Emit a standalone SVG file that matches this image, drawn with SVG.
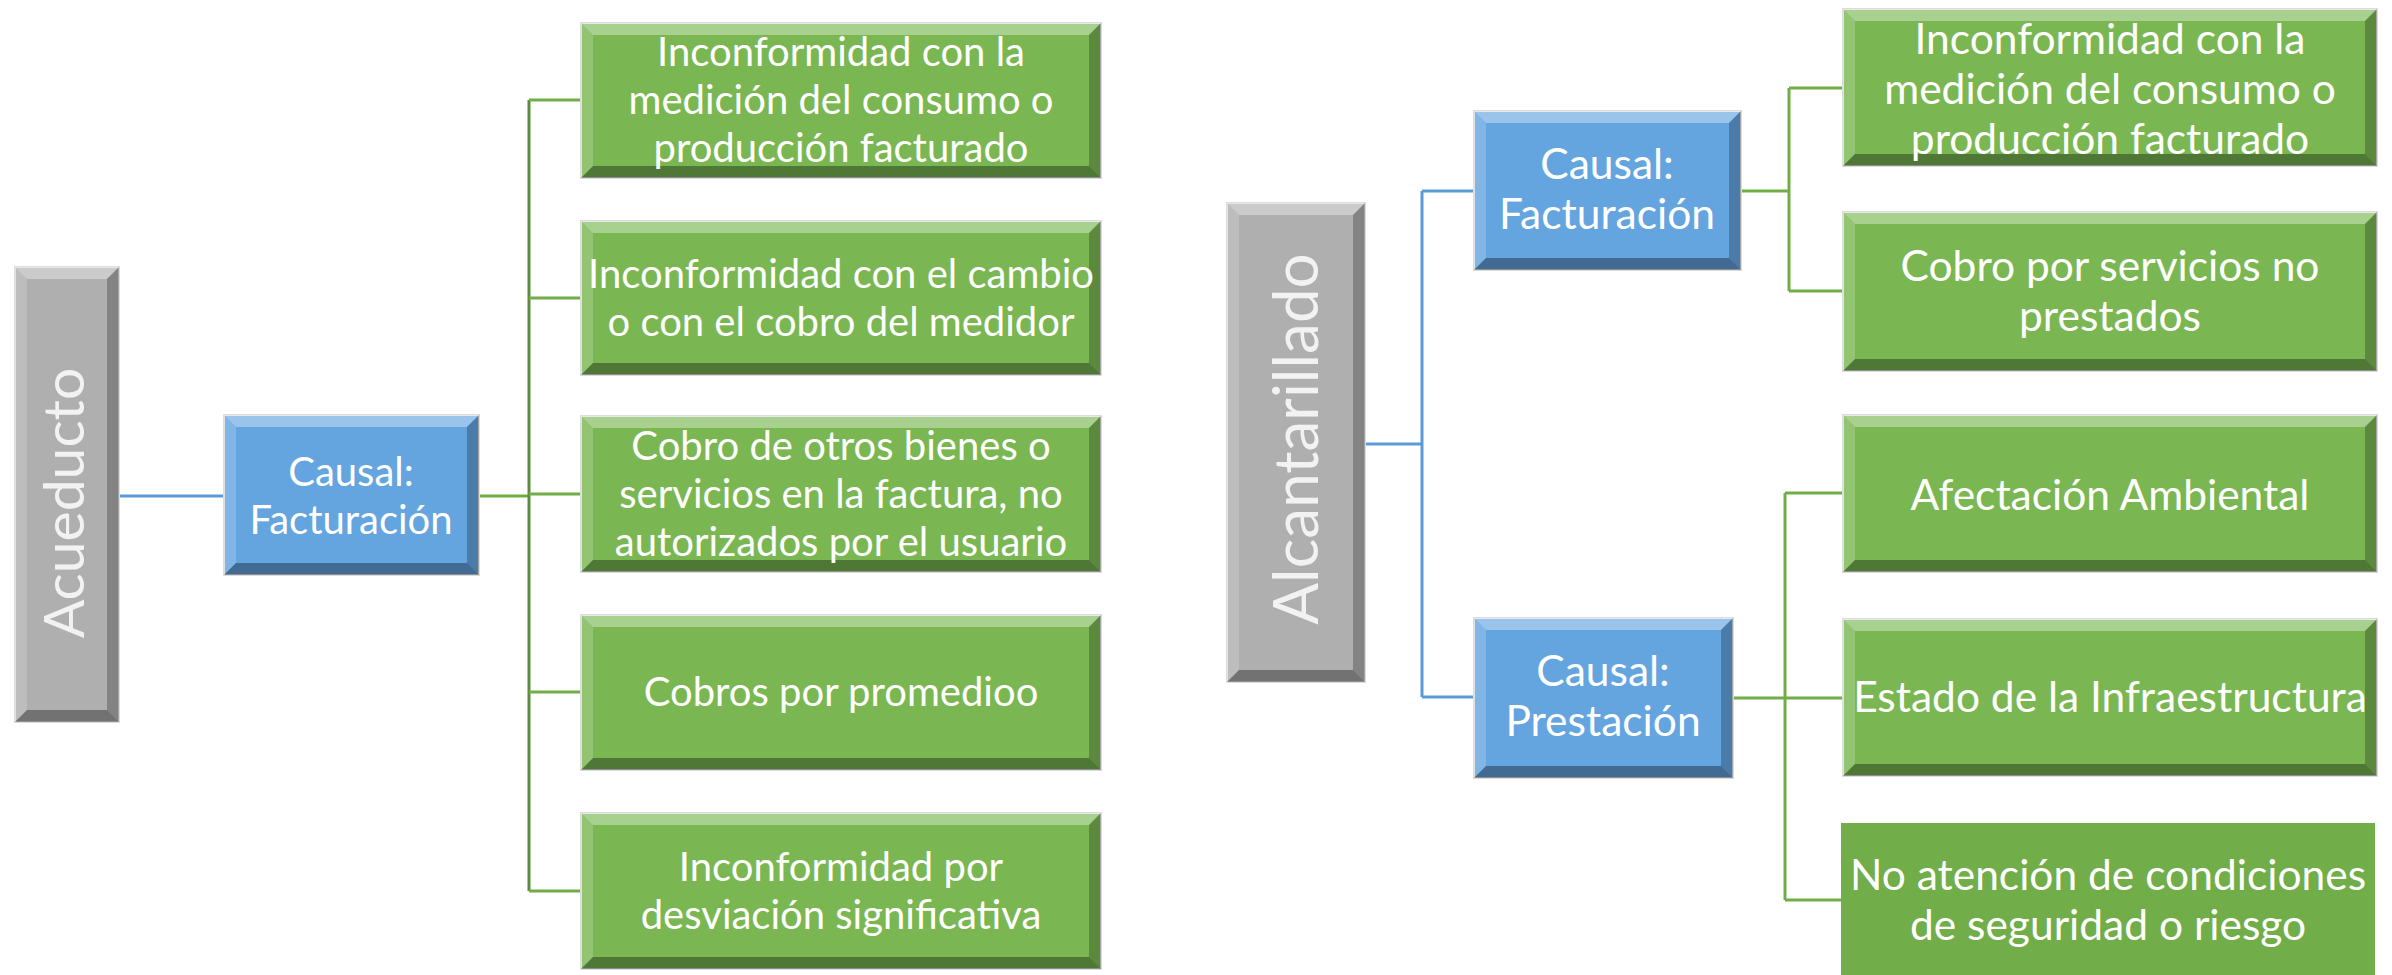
<svg xmlns="http://www.w3.org/2000/svg" width="2392" height="975" viewBox="0 0 2392 975">
<style>
.t{font-family:Lato,"Open Sans","Liberation Sans",sans-serif;fill:#fff;text-anchor:middle;font-size:40px}
.r{font-size:42.5px}
.big{fill:#f2f2f2}
.gray{fill:#afafaf}
.blue{fill:#64a5e0}
.green{fill:#7ab752}
.flat{fill:#71ad48}
.edge{stroke:#dcdcdc;stroke-width:2}
.hl{fill:#fff;opacity:.35}
.hl2{fill:#fff;opacity:.18}
.sh{fill:#000;opacity:.35}
.sh2{fill:#000;opacity:.25}
.cb{stroke:#5b9bd5;stroke-width:3;fill:none}
.cg{stroke:#70ad47;stroke-width:3;fill:none}
.cgd{stroke:#5a8d3a;stroke-width:3;fill:none}
</style>
<rect width="2392" height="975" fill="#fff"/>
<g id="connectors">
<path class="cb" d="M119 496H224"/>
<path class="cg" d="M479 496H529"/>
<path class="cgd" d="M529 100V891"/>
<path class="cg" d="M529 100H581M529 298H581M529 494H581M529 692H581M529 891H581"/>
<path class="cb" d="M1365 444H1422M1422 191V697M1422 191H1474M1422 697H1474"/>
<path class="cg" d="M1741 191H1789M1789 88V291M1789 88H1843M1789 291H1843"/>
<path class="cg" d="M1733 698H1785M1785 493V900M1785 493H1843M1785 698H1843M1785 900H1843"/>
</g>
<g id="acueducto">
<rect class="gray edge" x="15" y="267" width="104" height="455"/>
<polygon class="hl" points="15,267 119,267 107,279 27,279"/>
<polygon class="hl2" points="15,267 27,279 27,710 15,722"/>
<polygon class="sh" points="15,722 27,710 107,710 119,722"/>
<polygon class="sh2" points="119,267 119,722 107,710 107,279"/>
<text class="t big" style="font-size:57px" transform="translate(64,503) rotate(-90)" dy="0.35em">Acueducto</text>
</g>
<g id="causal-facturacion-1">
<rect class="blue edge" x="224" y="415" width="255" height="160"/>
<polygon class="hl" points="224,415 479,415 467,427 236,427"/>
<polygon class="hl2" points="224,415 236,427 236,563 224,575"/>
<polygon class="sh" points="224,575 236,563 467,563 479,575"/>
<polygon class="sh2" points="479,415 479,575 467,563 467,427"/>
<text class="t" x="351" y="486">Causal:</text>
<text class="t" x="351" y="534">Facturación</text>
</g>
<g id="a1">
<rect class="green edge" x="581" y="23" width="520" height="155"/>
<polygon class="hl" points="581,23 1101,23 1089,35 593,35"/>
<polygon class="hl2" points="581,23 593,35 593,166 581,178"/>
<polygon class="sh" points="581,178 593,166 1089,166 1101,178"/>
<polygon class="sh2" points="1101,23 1101,178 1089,166 1089,35"/>
<text class="t" x="841" y="66">Inconformidad con la</text>
<text class="t" x="841" y="114">medición del consumo o</text>
<text class="t" x="841" y="162">producción facturado</text>
</g>
<g id="a2">
<rect class="green edge" x="581" y="221" width="520" height="154"/>
<polygon class="hl" points="581,221 1101,221 1089,233 593,233"/>
<polygon class="hl2" points="581,221 593,233 593,363 581,375"/>
<polygon class="sh" points="581,375 593,363 1089,363 1101,375"/>
<polygon class="sh2" points="1101,221 1101,375 1089,363 1089,233"/>
<text class="t" x="841" y="288">Inconformidad con el cambio</text>
<text class="t" x="841" y="336">o con el cobro del medidor</text>
</g>
<g id="a3">
<rect class="green edge" x="581" y="416" width="520" height="156"/>
<polygon class="hl" points="581,416 1101,416 1089,428 593,428"/>
<polygon class="hl2" points="581,416 593,428 593,560 581,572"/>
<polygon class="sh" points="581,572 593,560 1089,560 1101,572"/>
<polygon class="sh2" points="1101,416 1101,572 1089,560 1089,428"/>
<text class="t" x="841" y="460">Cobro de otros bienes o</text>
<text class="t" x="841" y="508">servicios en la factura, no</text>
<text class="t" x="841" y="556">autorizados por el usuario</text>
</g>
<g id="a4">
<rect class="green edge" x="581" y="615" width="520" height="155"/>
<polygon class="hl" points="581,615 1101,615 1089,627 593,627"/>
<polygon class="hl2" points="581,615 593,627 593,758 581,770"/>
<polygon class="sh" points="581,770 593,758 1089,758 1101,770"/>
<polygon class="sh2" points="1101,615 1101,770 1089,758 1089,627"/>
<text class="t" x="841" y="706">Cobros por promedioo</text>
</g>
<g id="a5">
<rect class="green edge" x="581" y="813" width="520" height="156"/>
<polygon class="hl" points="581,813 1101,813 1089,825 593,825"/>
<polygon class="hl2" points="581,813 593,825 593,957 581,969"/>
<polygon class="sh" points="581,969 593,957 1089,957 1101,969"/>
<polygon class="sh2" points="1101,813 1101,969 1089,957 1089,825"/>
<text class="t" x="841" y="881">Inconformidad por</text>
<text class="t" x="841" y="929">desviación significativa</text>
</g>
<g id="alcantarillado">
<rect class="gray edge" x="1227" y="203" width="138" height="479"/>
<polygon class="hl" points="1227,203 1365,203 1353,215 1239,215"/>
<polygon class="hl2" points="1227,203 1239,215 1239,670 1227,682"/>
<polygon class="sh" points="1227,682 1239,670 1353,670 1365,682"/>
<polygon class="sh2" points="1365,203 1365,682 1353,670 1353,215"/>
<text class="t big" style="font-size:62px" transform="translate(1296,439) rotate(-90)" dy="0.35em">Alcantarillado</text>
</g>
<g id="causal-facturacion-2">
<rect class="blue edge" x="1474" y="111" width="267" height="159"/>
<polygon class="hl" points="1474,111 1741,111 1729,123 1486,123"/>
<polygon class="hl2" points="1474,111 1486,123 1486,258 1474,270"/>
<polygon class="sh" points="1474,270 1486,258 1729,258 1741,270"/>
<polygon class="sh2" points="1741,111 1741,270 1729,258 1729,123"/>
<text class="t r" x="1607" y="179">Causal:</text>
<text class="t r" x="1607" y="229">Facturación</text>
</g>
<g id="causal-prestacion">
<rect class="blue edge" x="1474" y="618" width="259" height="160"/>
<polygon class="hl" points="1474,618 1733,618 1721,630 1486,630"/>
<polygon class="hl2" points="1474,618 1486,630 1486,766 1474,778"/>
<polygon class="sh" points="1474,778 1486,766 1721,766 1733,778"/>
<polygon class="sh2" points="1733,618 1733,778 1721,766 1721,630"/>
<text class="t r" x="1603" y="686">Causal:</text>
<text class="t r" x="1603" y="736">Prestación</text>
</g>
<g id="r1">
<rect class="green edge" x="1843" y="9" width="534" height="157"/>
<polygon class="hl" points="1843,9 2377,9 2365,21 1855,21"/>
<polygon class="hl2" points="1843,9 1855,21 1855,154 1843,166"/>
<polygon class="sh" points="1843,166 1855,154 2365,154 2377,166"/>
<polygon class="sh2" points="2377,9 2377,166 2365,154 2365,21"/>
<text class="t r" x="2110" y="54">Inconformidad con la</text>
<text class="t r" x="2110" y="104">medición del consumo o</text>
<text class="t r" x="2110" y="154">producción facturado</text>
</g>
<g id="r2">
<rect class="green edge" x="1843" y="212" width="534" height="159"/>
<polygon class="hl" points="1843,212 2377,212 2365,224 1855,224"/>
<polygon class="hl2" points="1843,212 1855,224 1855,359 1843,371"/>
<polygon class="sh" points="1843,371 1855,359 2365,359 2377,371"/>
<polygon class="sh2" points="2377,212 2377,371 2365,359 2365,224"/>
<text class="t r" x="2110" y="281">Cobro por servicios no</text>
<text class="t r" x="2110" y="331">prestados</text>
</g>
<g id="r3">
<rect class="green edge" x="1843" y="415" width="534" height="157"/>
<polygon class="hl" points="1843,415 2377,415 2365,427 1855,427"/>
<polygon class="hl2" points="1843,415 1855,427 1855,560 1843,572"/>
<polygon class="sh" points="1843,572 1855,560 2365,560 2377,572"/>
<polygon class="sh2" points="2377,415 2377,572 2365,560 2365,427"/>
<text class="t r" x="2110" y="510">Afectación Ambiental</text>
</g>
<g id="r4">
<rect class="green edge" x="1843" y="619" width="534" height="157"/>
<polygon class="hl" points="1843,619 2377,619 2365,631 1855,631"/>
<polygon class="hl2" points="1843,619 1855,631 1855,764 1843,776"/>
<polygon class="sh" points="1843,776 1855,764 2365,764 2377,776"/>
<polygon class="sh2" points="2377,619 2377,776 2365,764 2365,631"/>
<text class="t r" x="2110" y="712">Estado de la Infraestructura</text>
</g>
<g id="r5">
<rect class="flat" x="1841" y="823" width="534" height="152"/>
<text class="t r" x="2108" y="890">No atención de condiciones</text>
<text class="t r" x="2108" y="940">de seguridad o riesgo</text>
</g>
</svg>
